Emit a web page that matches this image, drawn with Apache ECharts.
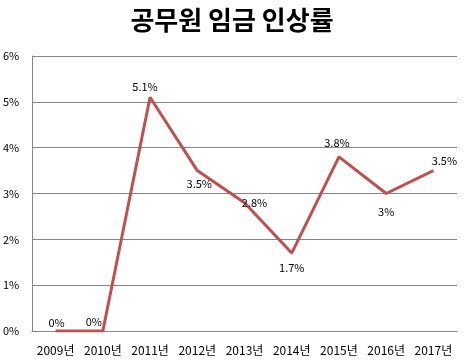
<!DOCTYPE html>
<html><head><meta charset="utf-8">
<script src="https://cdn.jsdelivr.net/npm/echarts@6/dist/echarts.min.js"></script>
<style>html,body{margin:0;padding:0;background:#fff}#c{width:464px;height:364px}</style>
</head><body><div id="c"></div>
<script>
const titleText = '공무원 임금 인상률';
const categories = ['2009년','2010년','2011년','2012년','2013년','2014년','2015년','2016년','2017년'];
const values = [0, 0, 5.1, 3.5, 2.8, 1.7, 3.8, 3, 3.5];
const labelTexts = ['0%','0%','5.1%','3.5%','2.8%','1.7%','3.8%','3%','3.5%'];
const yTicks = [0,1,2,3,4,5,6];
// label centre offset from its point, in px (style only)
const labelShift = [[1,-8],[-9,-9],[-5,-10],[2,13],[10,0],[0,15],[-2,-14],[0,18],[11,-10]];
const SYM = 2;
const FF = "'Noto Sans CJK KR', sans-serif";
const chart = echarts.init(document.getElementById('c'), null, {renderer:'canvas'});
chart.setOption({
  animation:false,
  backgroundColor:'#fff',
  title:{text:titleText,left:'center',top:2,textStyle:{fontFamily:FF,fontSize:26,fontWeight:'bold',color:'#000'}},
  grid:{left:32,right:7,top:56,bottom:33},
  xAxis:{type:'category',data:categories,boundaryGap:true,
    axisLine:{show:true,lineStyle:{color:'#868686',width:1}},
    axisTick:{show:false},
    axisLabel:{fontFamily:FF,fontSize:12,color:'#000',margin:13,interval:0}},
  yAxis:{type:'value',min:yTicks[0],max:yTicks[yTicks.length-1],interval:1,
    axisLine:{show:true,lineStyle:{color:'#868686',width:1}},
    axisTick:{show:false},
    splitLine:{show:true,lineStyle:{color:'#868686',width:1}},
    axisLabel:{fontFamily:FF,fontSize:11,color:'#000',align:'left',margin:29,formatter:v=>v+'%'}},
  series:[{type:'line',symbol:'circle',symbolSize:SYM,showSymbol:true,
    itemStyle:{color:'rgba(192,80,77,0)',borderWidth:0},
    lineStyle:{color:'#C0504D',width:3},
    label:{show:true,fontFamily:FF,fontSize:11,color:'#000',opacity:1},
    labelLayout:{hideOverlap:false},
    data:values.map((v,i)=>({value:v,label:{show:true,
      position:[SYM/2+labelShift[i][0], SYM/2+labelShift[i][1]],align:'center',verticalAlign:'middle',
      formatter:labelTexts[i],fontFamily:FF,fontSize:11,color:'#000',opacity:1}}))
  }]
});
</script></body></html>
